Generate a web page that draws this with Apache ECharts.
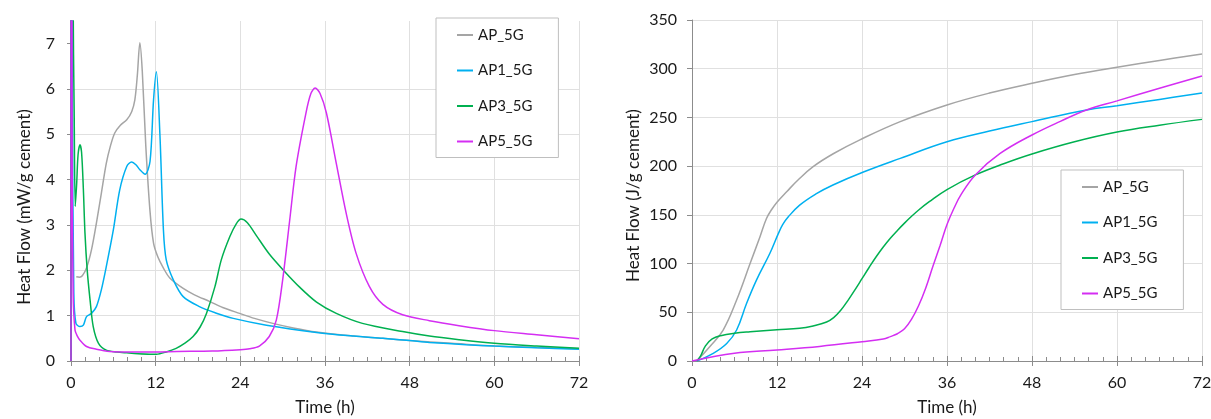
<!DOCTYPE html>
<html>
<head>
<meta charset="utf-8">
<script src="https://cdn.jsdelivr.net/npm/echarts@6/dist/echarts.min.js"></script>
<style>html,body{margin:0;padding:0;background:#fff}#c{width:1211px;height:419px}</style>
</head>
<body>
<div id="c"></div>
<script>
// ---------- data ----------
const seriesNames = ['AP_5G', 'AP1_5G', 'AP3_5G', 'AP5_5G'];
const xTicks = [0, 12, 24, 36, 48, 60, 72];
const yTicksFlow = [0, 1, 2, 3, 4, 5, 6, 7];
const yTicksHeat = [0, 50, 100, 150, 200, 250, 300, 350];

// Heat flow (mW/g cement) vs time (h)
const flowT_AP  = [0.75,1.2,1.6,2.2,2.9,3.6,4.3,5.0,5.6,6.2,7.0,7.9,8.6,9.05,9.4,9.76,10.1,10.6,11.2,11.7,12.3,13.1,14.0,15.9,17.5,19.7,21.5,23.9,26,28.6,31.5,34.8,40,44.2,48,54,60,66,72];
const flowV_AP  = [1.86,1.85,1.88,2.05,2.45,3.04,3.7,4.36,4.75,5.03,5.2,5.32,5.5,5.76,6.3,7.02,6.4,4.75,3.3,2.6,2.3,2.05,1.83,1.6,1.46,1.31,1.18,1.05,0.94,0.83,0.73,0.64,0.55,0.5,0.45,0.39,0.33,0.3,0.27];
const flowT_AP1 = [0,0.05,0.2,0.4,0.7,1.27,1.75,2.2,2.9,3.6,4.3,5.0,6.0,6.9,7.9,8.6,9.2,9.76,10.5,11.2,11.7,12.1,12.6,13.1,13.5,14.5,15.9,18.2,20.5,23,27.7,34.8,40,44.2,48,50.8,56,60,66,72];
const flowV_AP1 = [0,40,6,1.5,0.83,0.76,0.79,0.98,1.05,1.2,1.57,2.08,2.89,3.77,4.29,4.39,4.33,4.22,4.12,4.4,5.76,6.38,5.0,2.89,2.23,1.79,1.42,1.2,1.06,0.94,0.79,0.63,0.55,0.5,0.45,0.41,0.36,0.33,0.29,0.26];
const flowT_AP3 = [0,0.05,0.3,0.45,0.6,0.8,1.0,1.27,1.5,1.75,1.98,2.3,2.7,3.15,3.9,5.0,6.5,7.9,9.5,11.2,12.1,13.5,14.9,16.2,17.3,18.3,19.2,20.4,21.3,22.5,23.4,24.1,25,26.3,28.1,30.3,32.4,34.8,37.6,41.3,47,50.8,55,60,66,72];
const flowV_AP3 = [0,40,8,5.5,3.41,3.9,4.55,4.77,4.6,3.8,2.82,2.0,1.35,0.76,0.39,0.24,0.2,0.18,0.16,0.15,0.15,0.2,0.28,0.4,0.54,0.75,1.05,1.64,2.23,2.74,3.02,3.13,3.05,2.76,2.36,1.97,1.63,1.3,1.05,0.83,0.65,0.55,0.47,0.39,0.33,0.28];
const flowT_AP5 = [0,0.05,0.15,0.3,0.57,0.9,1.27,2.2,3.6,5.5,8,10.2,12,15,20,24,25.3,26.7,28.1,29.1,30.0,31.0,31.9,33.3,34.0,34.6,35.3,36.2,37.6,39.0,40.4,42.3,44.2,47.0,50.8,55,60,66,72];
const flowV_AP5 = [0,40,5,1.5,0.68,0.55,0.46,0.32,0.26,0.21,0.2,0.2,0.2,0.21,0.22,0.25,0.27,0.33,0.54,0.9,1.79,3.11,4.29,5.47,5.9,6.02,5.9,5.47,4.36,3.26,2.38,1.64,1.25,1.02,0.89,0.78,0.67,0.58,0.49];

// Cumulative heat (J/g cement) vs time (h)
const heatT_AP  = [0.66,2.5,4.4,6.3,8.2,9.6,10.5,11.2,12,13.4,15,17.1,20,23.7,29.4,36,42,48,54,60,66,72];
const heatV_AP  = [0,14.7,31.8,62.6,100,127.6,146,155,163,174,186,199.5,213,227,245.7,262.8,275,285,294,301.5,308.5,315];
const heatT_AP1 = [0.66,3,4.9,6.3,7.7,9.1,11,12.2,12.8,13.6,15.2,17.5,19.9,24.2,29.4,36,42,48,55.7,60,66,72];
const heatV_AP1 = [0,7.9,18,31.8,59,83,110.6,131,140,148,160,171.5,180.7,194,208,225,236,245.7,257.7,262,268.5,275];
const heatT_AP3 = [0.66,1.2,1.9,2.85,4.05,6,8.2,12,15.2,17.1,19,20,21,22,23,24,25,26,27,28,29,30,31,32,33.5,36,40,44,48,54,60,66,72];
const heatV_AP3 = [0,5,15.6,22.6,26,28.5,30,32,33.5,36,40,44.5,52,62,73,84.5,96,107,117,126,134,141.5,148.5,155,163.5,176,191,202.5,212.5,225,235,242,248];
const heatT_AP5 = [0,6,12,18,24,27,28,29,30,31,32,33,34,35,36,37,38,40,43.5,48,52,55.7,60,66,72];
const heatV_AP5 = [0,8,11.3,15,19.8,22.5,25,28,33,43,57,75,97,118,140,157,171,191,213,232,246,257.7,267,280,292.6];

// ---------- styling ----------
const colors = ['#a5a5a5', '#00b0f0', '#00b050', '#d42ef2'];
const FONT = 'Lato';
const TXT = '#1a1a1a';
const GRIDC = '#e0e0e0';
const AXC = '#8c8c8c';

const zip = (t, v) => t.map((x, i) => [x, v[i]]);
const flowSets = [[flowT_AP, flowV_AP], [flowT_AP1, flowV_AP1], [flowT_AP3, flowV_AP3], [flowT_AP5, flowV_AP5]];
const heatSets = [[heatT_AP, heatV_AP], [heatT_AP1, heatV_AP1], [heatT_AP3, heatV_AP3], [heatT_AP5, heatV_AP5]];

function mainX(gridIndex) {
  return {
    type: 'value', gridIndex, min: 0, max: 72, interval: 12, position: 'bottom',
    name: 'Time (h)', nameLocation: 'middle', nameGap: 38,
    nameTextStyle: { fontFamily: FONT, fontSize: 17, color: TXT },
    axisLine: { show: true, lineStyle: { color: AXC, width: 1 } },
    axisTick: { show: true, inside: true, length: 5, lineStyle: { color: AXC } },
    minorTick: { show: true, splitNumber: 6, length: 4, lineStyle: { color: AXC } },
    axisLabel: { fontFamily: FONT, fontSize: 16, color: TXT, margin: 14, customValues: xTicks },
    splitLine: { show: true, lineStyle: { color: GRIDC, width: 1 } }
  };
}
function tickX(gridIndex, h) {
  return {
    type: 'value', gridIndex, min: 0, max: 72, interval: 12, position: 'top', offset: -h,
    axisLine: { show: false }, axisLabel: { show: false }, splitLine: { show: false },
    axisTick: { show: true, inside: true, length: 5, lineStyle: { color: AXC } }
  };
}
function legendFor(left, top) {
  return {
    data: seriesNames, orient: 'vertical', left, top,
    icon: 'rect', itemWidth: 16, itemHeight: 2, itemGap: 15.5,
    padding: [7, 26, 6, 21],
    borderColor: '#bfbfbf', borderWidth: 1, backgroundColor: '#fff',
    textStyle: { fontFamily: FONT, fontSize: 15, color: TXT, lineHeight: 20 }
  };
}

const series = [];
flowSets.forEach((s, i) => series.push({
  name: seriesNames[i], type: 'line', xAxisIndex: 0, yAxisIndex: 0,
  data: zip(s[0], s[1]), showSymbol: false, smooth: 0.3, clip: true,
  lineStyle: { width: 1.5, color: colors[i] }, itemStyle: { color: colors[i] }
}));
heatSets.forEach((s, i) => series.push({
  name: seriesNames[i], type: 'line', xAxisIndex: 2, yAxisIndex: 1,
  data: zip(s[0], s[1]), showSymbol: false, smooth: 0.4, clip: true,
  lineStyle: { width: 1.5, color: colors[i] }, itemStyle: { color: colors[i] }
}));

const option = {
  animation: false,
  backgroundColor: '#fff',
  color: colors,
  textStyle: { fontFamily: FONT },
  grid: [
    { left: 71, right: 632, top: 21, bottom: 58, outerBoundsMode: 'none', containLabel: false },
    { left: 692, right: 9, top: 20, bottom: 58, outerBoundsMode: 'none', containLabel: false }
  ],
  xAxis: [mainX(0), tickX(0, 340), mainX(1), tickX(1, 341)],
  yAxis: [
    {
      type: 'value', gridIndex: 0, min: 0, max: 7.5, interval: 1,
      name: 'Heat Flow (mW/g cement)', nameLocation: 'middle', nameGap: 38,
      nameTextStyle: { fontFamily: FONT, fontSize: 17, color: TXT, padding: [0, 32, 0, 0] },
      axisLine: { show: true, lineStyle: { color: AXC } },
      axisTick: { show: true, inside: false, length: 4, lineStyle: { color: AXC }, customValues: yTicksFlow },
      axisLabel: { fontFamily: FONT, fontSize: 16, color: TXT, margin: 16, customValues: yTicksFlow },
      splitLine: { show: true, showMaxLine: false, lineStyle: { color: GRIDC } }
    },
    {
      type: 'value', gridIndex: 1, min: 0, max: 350, interval: 50,
      name: 'Heat Flow (J/g cement)', nameLocation: 'middle', nameGap: 50,
      nameTextStyle: { fontFamily: FONT, fontSize: 17, color: TXT, padding: [0, 10, 0, 0] },
      axisLine: { show: true, lineStyle: { color: AXC } },
      axisTick: { show: true, inside: false, length: 5, lineStyle: { color: AXC } },
      axisLabel: { fontFamily: FONT, fontSize: 16, color: TXT, margin: 15, customValues: yTicksHeat },
      splitLine: { show: true, lineStyle: { color: GRIDC } }
    }
  ],
  legend: [legendFor(436, 18), legendFor(1061, 170)],
  series
};

const chart = echarts.init(document.getElementById('c'), null, { renderer: 'canvas' });
chart.setOption(option);
</script>
</body>
</html>
